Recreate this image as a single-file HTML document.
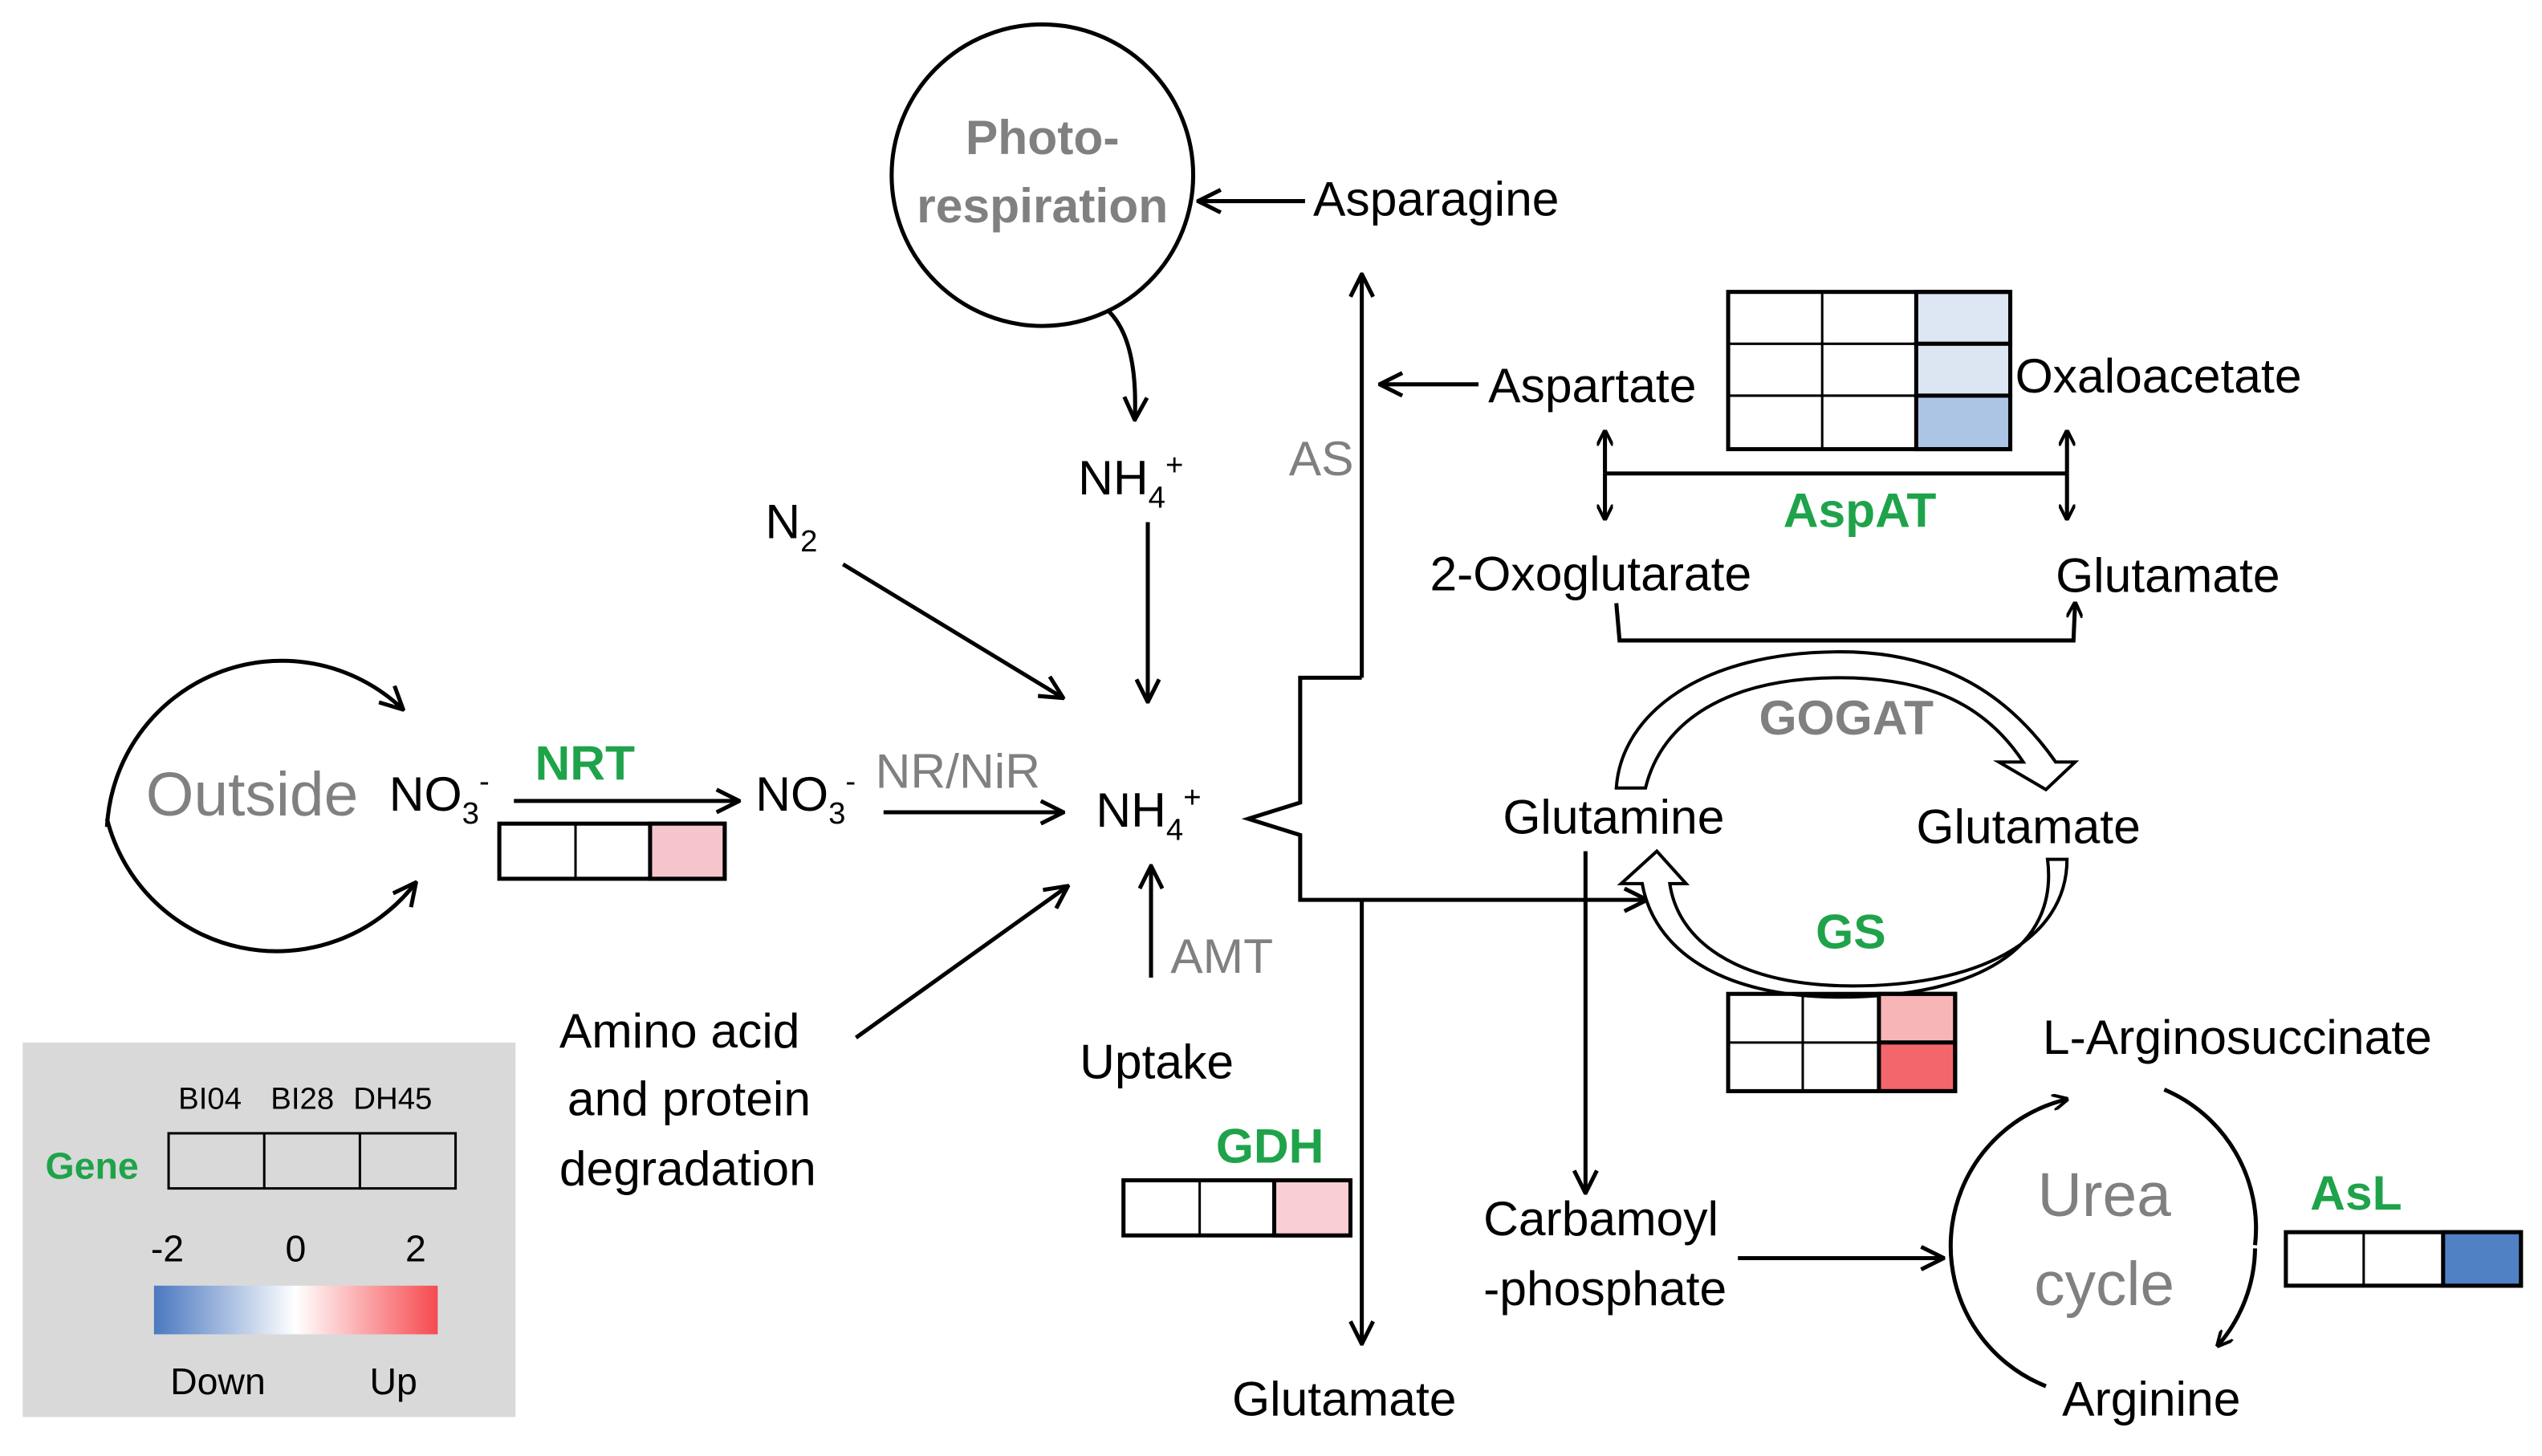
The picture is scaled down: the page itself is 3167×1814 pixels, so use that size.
<!DOCTYPE html>
<html><head><meta charset="utf-8"><style>
html,body{margin:0;padding:0;background:#fff;}
svg{display:block;}
text{font-family:"Liberation Sans",sans-serif;}
</style></head><body>
<svg width="3167" height="1814" viewBox="0 0 1568 898" xmlns="http://www.w3.org/2000/svg">
<defs>
<marker id="a" markerWidth="10" markerHeight="10" refX="9" refY="5" orient="auto" markerUnits="userSpaceOnUse" viewBox="0 0 10 10"><path d="M0,0 L10,5 L0,10" fill="none" stroke="#000" stroke-width="2"/></marker>
<marker id="b" markerWidth="16" markerHeight="16" refX="14" refY="8" orient="auto" markerUnits="userSpaceOnUse" viewBox="0 0 16 16"><path d="M1,1 L15,8 L1,15" fill="none" stroke="#000" stroke-width="2.5"/></marker>
<linearGradient id="g" x1="0" x2="1"><stop offset="0" stop-color="#4a78c0"/><stop offset="0.5" stop-color="#fff"/><stop offset="1" stop-color="#f64a4f"/></linearGradient>
</defs>
<g stroke="#000" stroke-width="2.5" fill="none">
<circle cx="643" cy="108" r="93"/>
<line x1="805" y1="124" x2="740" y2="124" marker-end="url(#b)"/>
<path d="M684,192 Q702,210 700,258" marker-end="url(#b)"/>
<line x1="708" y1="322" x2="708" y2="432" marker-end="url(#b)"/>
<line x1="520" y1="348" x2="655" y2="430" marker-end="url(#b)"/>
<line x1="840" y1="418" x2="840" y2="170" marker-end="url(#b)"/>
<path d="M840,418 L802,418 L802,495 L770,505 L802,515 L802,555 L840,555"/>
<line x1="840" y1="555" x2="1015" y2="555" marker-end="url(#b)"/>
<line x1="840" y1="555" x2="840" y2="828" marker-end="url(#b)"/>
<line x1="912" y1="237" x2="852" y2="237" marker-end="url(#b)"/>
<path d="M990,292 L1275,292"/>
<line x1="990" y1="292" x2="990" y2="266" marker-end="url(#a)"/>
<line x1="990" y1="292" x2="990" y2="320" marker-end="url(#a)"/>
<line x1="1275" y1="292" x2="1275" y2="266" marker-end="url(#a)"/>
<line x1="1275" y1="292" x2="1275" y2="320" marker-end="url(#a)"/>
<path d="M997,372 L999,395 L1279,395 L1280,372" marker-end="url(#a)"/>
<path d="M997,486 C1000,440 1050,402 1135,402 C1200,402 1240,430 1268,470 L1280,470 L1262,487 L1233,470 L1248,470 C1225,435 1190,418 1135,418 C1065,418 1025,445 1015,486 Z" stroke-width="2" fill="#fff"/>
<path d="M1275,530 C1275,580 1220,610 1135,608 C1070,606 1035,580 1030,545 L1040,545 L1022,525 L1000,545 L1013,545 C1020,585 1060,615 1135,615 C1220,615 1270,585 1263,530 Z" stroke-width="2" fill="#fff"/>
<line x1="978" y1="525" x2="978" y2="735" marker-end="url(#b)"/>
<line x1="1072" y1="776" x2="1198" y2="776" marker-end="url(#b)"/>
<path d="M1335,672 A93,93 0 0 1 1391,768" />
<path d="M1391,770 A93,93 0 0 1 1368,830" marker-end="url(#a)"/>
<path d="M1262,855 A93,93 0 0 1 1275,678" marker-end="url(#a)"/>
<path d="M66,510 A108,108 0 0 1 248,437" marker-end="url(#b)"/>
<path d="M66,505 A108,108 0 0 0 256,545" marker-end="url(#b)"/>
<line x1="317" y1="494" x2="455" y2="494" marker-end="url(#b)"/>
<line x1="545" y1="501" x2="655" y2="501" marker-end="url(#b)"/>
<line x1="710" y1="603" x2="710" y2="535" marker-end="url(#b)"/>
<line x1="528" y1="640" x2="658" y2="547" marker-end="url(#b)"/>
</g>
<g stroke="#000" stroke-width="2.5">
<rect x="1182" y="180" width="58" height="32" fill="#dde6f3"/>
<rect x="1182" y="212" width="58" height="32" fill="#dce6f2"/>
<rect x="1182" y="244" width="58" height="33" fill="#adc5e5"/>
<rect x="1066" y="180" width="174" height="97" fill="none"/>
<path d="M1124,180V277M1182,180V277M1066,212H1240M1066,244H1240" fill="none" stroke-width="1.5"/>
<rect x="1159" y="613" width="47" height="30" fill="#f8b5b8"/>
<rect x="1159" y="643" width="47" height="30" fill="#f2666c"/>
<rect x="1066" y="613" width="140" height="60" fill="none"/>
<path d="M1112,613V673M1159,613V673M1066,643H1206" fill="none" stroke-width="1.5"/>
<rect x="1410" y="760" width="145" height="33" fill="#fff"/>
<rect x="1507" y="760" width="48" height="33" fill="#4f81c4"/>
<path d="M1458,760V793" stroke-width="1.5"/>
<rect x="308" y="508" width="139" height="34" fill="#fff"/>
<rect x="401" y="508" width="46" height="34" fill="#f6c5cb"/>
<path d="M355,508V542" stroke-width="1.5"/>
<rect x="693" y="728" width="140" height="34" fill="#fff"/>
<rect x="786" y="728" width="47" height="34" fill="#f9cfd3"/>
<path d="M740,728V762" stroke-width="1.5"/>
</g>
<rect x="14" y="643" width="304" height="231" fill="#d9d9d9"/>
<rect x="104" y="699" width="177" height="34" fill="none" stroke="#000" stroke-width="1.5"/>
<path d="M163,699V733M222,699V733" stroke="#000" stroke-width="1.5"/>
<rect x="95" y="793" width="175" height="30" fill="url(#g)"/>
<g font-size="19" fill="#000"><text x="110" y="684">BI04</text><text x="167" y="684">BI28</text><text x="218" y="684">DH45</text></g>
<text x="28" y="727" font-size="23" font-weight="bold" fill="#1fa34a">Gene</text>
<g font-size="23" fill="#000"><text x="93" y="778">-2</text><text x="176" y="778">0</text><text x="250" y="778">2</text>
<text x="105" y="860">Down</text><text x="228" y="860">Up</text></g>
<g font-size="30" fill="#000">
<text x="810" y="133">Asparagine</text>
<text x="665" y="305">NH<tspan font-size="19" dy="8">4</tspan><tspan font-size="19" dy="-20">+</tspan></text>
<text x="472" y="332">N<tspan font-size="19" dy="8">2</tspan></text>
<text x="918" y="248">Aspartate</text>
<text x="1243" y="242">Oxaloacetate</text>
<text x="882" y="364">2-Oxoglutarate</text>
<text x="1268" y="365">Glutamate</text>
<text x="927" y="514">Glutamine</text>
<text x="1182" y="520">Glutamate</text>
<text x="915" y="762">Carbamoyl</text>
<text x="915" y="805">-phosphate</text>
<text x="1260" y="650">L-Arginosuccinate</text>
<text x="1272" y="873">Arginine</text>
<text x="760" y="873">Glutamate</text>
<text x="240" y="500">NO<tspan font-size="19" dy="8">3</tspan><tspan font-size="19" dy="-20">-</tspan></text>
<text x="466" y="500">NO<tspan font-size="19" dy="8">3</tspan><tspan font-size="19" dy="-20">-</tspan></text>
<text x="676" y="510">NH<tspan font-size="19" dy="8">4</tspan><tspan font-size="19" dy="-20">+</tspan></text>
<text x="666" y="665">Uptake</text>
<text x="345" y="646">Amino acid</text>
<text x="350" y="688">and protein</text>
<text x="345" y="731">degradation</text>
</g>
<g fill="#808080" font-size="30">
<text x="795" y="293">AS</text>
<text x="540" y="486">NR/NiR</text>
<text x="722" y="600">AMT</text>
<text x="90" y="503" font-size="38">Outside</text>
<text x="1298" y="750" font-size="38" text-anchor="middle">Urea</text>
<text x="1298" y="805" font-size="38" text-anchor="middle">cycle</text>
<text x="643" y="95" font-weight="bold" text-anchor="middle">Photo-</text>
<text x="643" y="137" font-weight="bold" text-anchor="middle">respiration</text>
<text x="1085" y="453" font-weight="bold">GOGAT</text>
</g>
<g fill="#1fa34a" font-size="30" font-weight="bold">
<text x="1100" y="325">AspAT</text>
<text x="1120" y="585">GS</text>
<text x="1425" y="746">AsL</text>
<text x="330" y="481">NRT</text>
<text x="750" y="717">GDH</text>
</g>
</svg>
</body></html>
